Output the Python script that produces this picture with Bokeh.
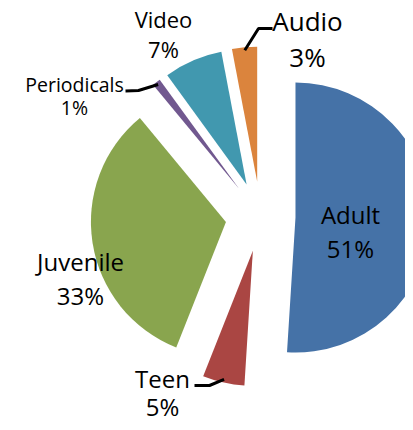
import math
from bokeh.plotting import figure
from bokeh.models import Range1d, ColumnDataSource
from bokeh.core.properties import value
from bokeh.embed import file_html
from bokeh.resources import INLINE

# ---- data ----
categories = ["Adult", "Teen", "Juvenile", "Periodicals", "Video", "Audio"]
shares = [51, 5, 33, 1, 7, 3]
colors = ["#4572A7", "#AA4643", "#89A54E", "#71588F", "#4198AF", "#DB843D"]

# ---- layout (picture pixel coordinates, y downward) ----
W, H = 405, 422
PAGE_H = 430
CX, CY = 260, 216
R = 135
EXPLODE = 35
TEXT_DY = -8.5  # renderer baseline correction

# label anchors: centre x, name baseline, percent baseline, font px
label_layout = {
    "Adult": (350, 222, 256, 24),
    "Teen": (162, 386, 414, 24),
    "Juvenile": (80, 269, 303, 24),
    "Periodicals": (74, 92, 115, 19.5),
    "Video": (163, 27, 57, 22),
    "Audio": (307, 29, 65, 26),
}
# leader lines: label-side points; slice end computed from geometry
leader_layout = {
    "Periodicals": [(125, 90.5), (138, 90)],
    "Audio": [(272, 28), (258, 28)],
    "Teen": [(194, 385), (209, 385)],
}


def dy(Y):
    return PAGE_H - Y


p = figure(width=W, height=H, output_backend="svg", toolbar_location=None,
           x_range=Range1d(0, W), y_range=Range1d(PAGE_H - H, PAGE_H),
           min_border=0)
p.axis.visible = False
p.grid.visible = False
p.outline_line_color = None
p.background_fill_color = "white"
p.border_fill_color = "white"

total = float(sum(shares))
xs, ys, starts, ends, cols = [], [], [], [], []
apex = {}
mids = {}
cum = 0.0
for cat, s, c in zip(categories, shares, colors):
    t1 = cum / total * 360.0
    t2 = (cum + s) / total * 360.0
    cum += s
    mid = math.radians((t1 + t2) / 2)
    ax = CX + EXPLODE * math.sin(mid)
    ay = CY - EXPLODE * math.cos(mid)
    apex[cat] = (ax, ay)
    mids[cat] = mid
    xs.append(ax)
    ys.append(dy(ay))
    starts.append(math.radians(90 - t2))
    ends.append(math.radians(90 - t1))
    cols.append(c)

src = ColumnDataSource(dict(x=xs, y=ys, start=starts, end=ends, color=cols))
p.wedge(x="x", y="y", radius=R, start_angle="start", end_angle="end",
        direction="anticlock", fill_color="color", line_color=None, source=src)

# leader lines
for cat, pts in leader_layout.items():
    ax, ay = apex[cat]
    m = mids[cat]
    ox = ax + (R - 3) * math.sin(m)
    oy = ay - (R - 3) * math.cos(m)
    path = pts + [(ox, oy)]
    p.line([q[0] for q in path], [dy(q[1]) for q in path],
           line_color="black", line_width=3)

# labels
tx, ty, tt, ts = [], [], [], []
for cat, s in zip(categories, shares):
    x0, yb1, yb2, fs = label_layout[cat]
    tx += [x0, x0]
    ty += [dy(yb1 + TEXT_DY), dy(yb2 + TEXT_DY)]
    tt += [cat, f"{s}%"]
    ts += [f"{fs}px", f"{fs}px"]

tsrc = ColumnDataSource(dict(x=tx, y=ty, text=tt, size=ts))
p.text(x="x", y="y", text="text", text_font_size="size", source=tsrc,
       text_font=value("Open Sans"), text_align="center",
       text_baseline="alphabetic", text_color="black")

open("out.html", "w").write(file_html(p, INLINE))
